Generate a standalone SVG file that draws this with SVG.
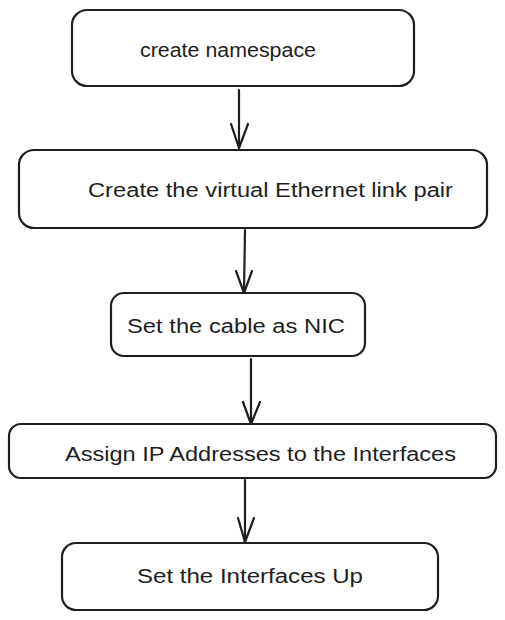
<svg xmlns="http://www.w3.org/2000/svg" width="505" height="620" viewBox="0 0 505 620">
<style>
.box{fill:#ffffff;stroke:#1e1e1e;stroke-width:2.2;}
.lbl{font-family:"Liberation Sans",Arial,sans-serif;font-size:20px;fill:#1e1e1e;}
.edge{stroke:#1e1e1e;stroke-width:2.2;fill:none;stroke-linecap:round;stroke-linejoin:round;}
</style>
<rect width="505" height="620" fill="#ffffff"/>
<g id="connectors">
<line class="edge" x1="239" y1="90" x2="239" y2="148"/>
<path class="edge" d="M231,124 L239,148 L248,124"/>
<line class="edge" x1="245" y1="230" x2="244" y2="293"/>
<path class="edge" d="M236,271 L244,293 L252,271"/>
<line class="edge" x1="251" y1="359" x2="251" y2="424"/>
<path class="edge" d="M243,402 L251,424 L260,402"/>
<line class="edge" x1="245" y1="480" x2="245" y2="542"/>
<path class="edge" d="M238,518 L245,542 L254,518"/>
</g>
<g id="node1">
<rect class="box" x="72" y="10" width="342" height="76" rx="15"/>
<text class="lbl" x="140" y="57" textLength="176" lengthAdjust="spacingAndGlyphs">create namespace</text>
</g>
<g id="node2">
<rect class="box" x="19" y="150" width="468" height="78" rx="15"/>
<text class="lbl" x="88" y="197" textLength="365" lengthAdjust="spacingAndGlyphs">Create the virtual Ethernet link pair</text>
</g>
<g id="node3">
<rect class="box" x="111" y="293" width="254" height="63" rx="13"/>
<text class="lbl" x="127" y="333" textLength="218" lengthAdjust="spacingAndGlyphs">Set the cable as NIC</text>
</g>
<g id="node4">
<rect class="box" x="9" y="424" width="487" height="54" rx="12"/>
<text class="lbl" x="65" y="461" textLength="391" lengthAdjust="spacingAndGlyphs">Assign IP Addresses to the Interfaces</text>
</g>
<g id="node5">
<rect class="box" x="62" y="543" width="376" height="67" rx="14"/>
<text class="lbl" x="137" y="583" textLength="226" lengthAdjust="spacingAndGlyphs">Set the Interfaces Up</text>
</g>
</svg>
